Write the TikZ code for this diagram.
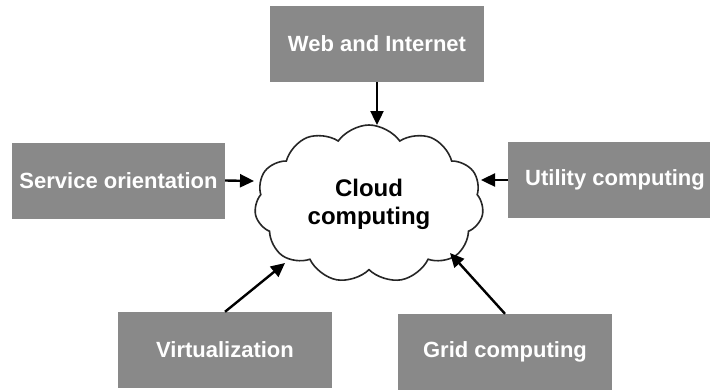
\documentclass[tikz,border=0pt]{standalone}
\usepackage{fontspec}
\setmainfont{Liberation Sans}
\usetikzlibrary{shapes.symbols,arrows.meta}
\definecolor{boxgray}{HTML}{898989}
\begin{document}
\begin{tikzpicture}[x=1pt,y=-1pt,
  conceptbox/.style={fill=boxgray,draw=none,text=white,font=\fontsize{22}{26}\selectfont\bfseries,
    minimum width=214pt,minimum height=76pt,inner sep=0pt},
  feed/.style={line width=2.4pt,-{Triangle[length=14pt,width=13pt]}}]
\useasboundingbox (0,0) rectangle (710,389);
\fill[white] (0,0) rectangle (710,389);
% the cloud in the middle
\node[cloud,cloud puffs=11,cloud puff arc=110,aspect=1.45,draw=black!85,line width=1.6pt,fill=white,
  minimum width=229pt,minimum height=158pt,inner sep=0pt,align=center,
  font=\fontsize{24}{28}\selectfont\bfseries] (cloud) at (369,204) {Cloud\\computing};
% the contributing fields
\node[conceptbox] (web)  at (377,44)    {Web and Internet};
\node[conceptbox,minimum width=213pt] (serv) at (118.5,180.5) {Service orientation};
\node[conceptbox] (util) at (615,180)   {Utility computing};
\node[conceptbox] (virt) at (225,350)   {Virtualization};
\node[conceptbox] (grid) at (505,352)   {Grid computing};
% arrow ends on the cloud outline
\coordinate (tweb)  at (377,125);
\coordinate (tserv) at (254,181);
\coordinate (tutil) at (481,180);
\coordinate (tvirt) at (285,263);
\coordinate (tgrid) at (450,253);
\draw[feed] (web.south) -- (tweb);
\draw[feed] (serv.east) -- (tserv);
\draw[feed] (util.west) -- (tutil);
\draw[feed] (virt.north) -- (tvirt);
\draw[feed] (grid.north) -- (tgrid);
\end{tikzpicture}
\end{document}
